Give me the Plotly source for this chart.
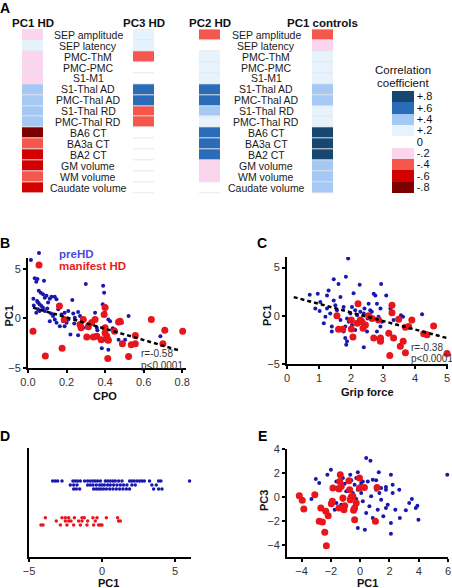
import plotly.graph_objects as go

W, H = 452, 588
FONT = "Liberation Sans, Arial, Helvetica, sans-serif"


def px(x):
    return x / W


def py(y):
    return 1 - y / H


def sfx(n):
    return "" if n == 1 else str(n)


# ---------------- Panel A data ----------------
measures = ["SEP amplitude", "SEP latency", "PMC-ThM", "PMC-PMC", "S1-M1",
            "S1-Thal AD", "PMC-Thal AD", "S1-Thal RD", "PMC-Thal RD",
            "BA6 CT", "BA3a CT", "BA2 CT", "GM volume", "WM volume", "Caudate volume"]
pc1_hd = [-0.2, 0.2, -0.2, -0.2, -0.2, 0.4, 0.4, 0.4, 0.4, -0.8, -0.4, -0.6, -0.6, -0.4, -0.6]
pc3_hd = [0.2, 0.2, -0.4, 0.0, 0.0, 0.6, 0.6, -0.4, -0.4, 0.0, 0.0, 0.0, 0.0, 0.0, 0.0]
pc2_hd = [-0.4, 0.0, 0.2, 0.2, 0.2, 0.6, 0.6, 0.4, 0.2, 0.6, 0.6, 0.6, -0.2, -0.2, 0.0]
pc1_controls = [-0.4, -0.2, 0.2, 0.2, 0.2, 0.4, 0.4, 0.2, 0.2, 0.8, 0.8, 0.8, 0.4, 0.4, 0.4]
heat_titles = ["PC1 HD", "PC3 HD", "PC2 HD", "PC1 controls"]

levels = [-0.8, -0.6, -0.4, -0.2, 0.0, 0.2, 0.4, 0.6, 0.8]
level_labels = ["-.8", "-.6", "-.4", "-.2", "0", "+.2", "+.4", "+.6", "+.8"]
level_colors = ["#7b0000", "#d20000", "#f4574c", "#fbd4ee", "#ffffff",
                "#e6f3fd", "#a5c8f5", "#2a6cb8", "#174670"]

# ---------------- Panel B data (CPO vs PC1) ----------------
b_pre_x = [0.015, 0.049, 0.035, 0.043, 0.083, 0.056, 0.066, 0.078, 0.047, 0.052, 0.06, 0.087,
           0.096, 0.113, 0.122, 0.139, 0.148, 0.104, 0.052, 0.06, 0.043, 0.07, 0.078, 0.087,
           0.13, 0.139, 0.157, 0.174, 0.183, 0.2, 0.19, 0.209, 0.23, 0.235, 0.243, 0.26,
           0.27, 0.22, 0.26, 0.3, 0.33, 0.348, 0.357, 0.39, 0.395, 0.388, 0.4, 0.417,
           0.426, 0.4, 0.383, 0.417, 0.452, 0.47, 0.504, 0.522, 0.687, 0.487, 0.287, 0.165,
           0.148, 0.113, 0.19, 0.209, 0.028, 0.1, 0.12, 0.03, 0.24, 0.31, 0.44, 0.36]
b_pre_y = [5.9, 3.98, 4.05, 3.7, 3.8, 2.8, 2.6, 2.45, 1.77, 1.6, 1.43, 2.1,
           2.3, 2.0, 2.2, 2.2, 1.94, 1.6, 0.92, 0.75, 0.58, 1.26, 1.09, 0.75,
           0.24, -0.1, 0.92, 0.4, -0.27, -0.44, 0.58, 0.75, 1.87, 0.51, 0.07, 0.65,
           0.24, -1.63, -1.7, 3.47, -0.27, 0.58, -0.95, 3.3, 2.6, 1.43, 0.58, -0.1,
           -0.27, -2.14, -3.0, -3.16, -1.12, -2.14, -2.14, 0.24, -1.8, -0.44, -0.95, -0.78,
           -0.44, -0.27, -0.78, -0.1, 2.0, 1.0, 0.5, 1.3, -0.5, -0.6, -1.0, -1.2]
b_man_x = [0.026, 0.09, 0.177, 0.163, 0.188, 0.27, 0.275, 0.305, 0.313, 0.33, 0.339, 0.357,
           0.38, 0.395, 0.4, 0.4, 0.409, 0.414, 0.417, 0.414, 0.449, 0.478, 0.49, 0.522,
           0.536, 0.557, 0.64, 0.71, 0.7, 0.803, 0.287, 0.348, 0.557, 0.4, 0.47]
b_man_y = [-1.29, -3.78, -3.0, 1.26, -0.1, -0.61, -0.95, -1.87, -0.85, -0.44, -1.87, -1.8,
           -2.14, 0.41, -0.95, -1.46, -1.8, -2.14, -2.2, -4.05, -1.29, -0.27, -2.55, -3.84,
           -2.65, -2.55, -0.1, -1.19, -2.55, -1.29, -0.1, -0.1, -1.73, 1.1, -0.37]
b_fit_x = [0.026, 0.78]
b_fit_y = [1.09, -3.2]
b_stats = ["r=-0.58", "p<0.0001"]

# ---------------- Panel C data (Grip force vs PC1) ----------------
c_pre_x = [1.91, 1.84, 1.46, 1.61, 2.27, 2.94, 0.71, 0.96, 1.25, 1.3, 1.04, 0.885, 1.02, 1.15,
           1.4, 1.4, 1.46, 1.51, 1.56, 1.67, 1.77, 1.77, 1.82, 1.85, 1.875, 1.82, 1.98, 2.03,
           2.08, 2.13, 2.19, 2.29, 2.34, 2.4, 2.4, 2.52, 2.6, 2.65, 2.71, 2.76, 2.81, 2.86,
           2.92, 2.97, 3.1, 2.92, 2.81, 3.23, 3.33, 3.56, 3.625, 4.22, 1.67, 1.56, 1.875, 1.93,
           2.03, 2.13, 2.5, 2.24, 2.42, 2.55, 1.25, 1.35, 1.2]
c_pre_y = [5.95, 4.05, 3.8, 3.3, 3.23, 3.3, 2.18, 2.28, 2.1, 2.62, 1.43, 0.75, 0.51, -0.78,
           -1.12, -1.63, 1.6, 1.09, 0.58, 1.94, 0.92, -1.63, -2.31, -3.0, -2.65, -1.12, 0.24, 0.92,
           2.35, 0.58, 0.07, 0.41, -0.44, -3.27, 0.24, -0.27, 0.58, 0.41, 2.28, 2.1, 1.26, -0.1,
           0.75, -0.61, 2.1, -1.12, -1.63, 0.75, -0.44, 0.07, -0.1, 0.17, -0.44, -0.1, -0.27, -0.61,
           -0.95, -1.46, -1.63, 1.26, 0.75, 1.26, 0.75, 0.24, -0.1]
c_man_x = [1.56, 1.61, 1.74, 2.01, 2.01, 2.06, 2.22, 2.29, 2.34, 2.375, 2.55, 2.66, 2.71, 2.86,
           2.92, 2.92, 2.92, 3.18, 3.21, 3.28, 3.28, 3.33, 3.49, 3.54, 3.63, 3.7, 3.7, 3.8,
           3.9, 4.27, 4.375, 4.58, 5.0, 2.19, 2.45]
c_man_y = [0.0, -1.39, -1.39, -1.36, -0.44, -2.21, 1.26, -0.44, -0.61, -1.29, 0.0, -0.27, -2.31, -0.44,
           -2.31, -2.48, -2.65, -1.8, -4.12, 1.09, 0.31, -2.31, -0.37, -3.16, -2.65, -3.84, -1.19, -1.12,
           -0.44, -1.87, -1.97, -1.05, -3.91, -0.78, -0.95]
c_fit_x = [0.21, 5.0]
c_fit_y = [1.94, -2.31]
c_stats = ["r=-0.38", "p<0.0001"]

# ---------------- Panel D data (PC1 by group, three jitter lanes each) ----------------
d_pre_lanes = [
    [-3.38, -3.20, -3.04, -2.74, -1.99, -1.83, -1.67, -1.48, -1.19, -0.98, -0.80, -0.62, -0.46,
     -0.30, -0.11, 0.23, 0.39, 0.57, 0.75, 0.91, 1.14, 1.37, 1.89, 2.05, 2.21, 2.40, 2.58,
     2.74, 2.90, 3.26, 3.88, 4.04, 6.0],
    [-2.17, -1.94, -1.71, -0.98, -0.80, -0.62, -0.39, -0.16, 0.0, 0.16, 0.39, 0.57, 0.80,
     1.03, 1.26, 1.48, 1.71, 2.05, 2.28, 3.42, 3.72],
    [-1.94, -1.76, -1.53, -0.57, -0.39, -0.23, -0.07, 0.11, 0.30, 0.53, 0.75, 0.98, 1.21,
     1.44, 1.67, 1.89, 3.54, 3.88, 4.11],
]
d_man_lanes = [
    [-3.88, -2.74, -2.51, -2.28, -1.89, -1.37, -1.21, -0.62, -0.34, 0.30, 1.07],
    [-3.13, -2.51, -2.28, -2.12, -1.60, -1.37, -0.98, -0.46, 1.14, 1.26],
    [-4.18, -4.04, -2.85, -2.40, -1.94, -1.48, -1.03, -0.57, -0.23, -0.11, 0.0],
]
d_pre_lane_y = [2.09, 1.98, 1.87]
d_man_lane_y = [1.08, 0.99, 0.88]

# ---------------- Panel E data (PC1 vs PC3) ----------------
e_pre_x = [0.41, 0.7, 5.95, -2.0, -3.03, -2.8, -2.24, -1.63, -1.58, -1.18, -1.06, -0.68, -0.61,
           -0.16, -0.27, -0.38, 0.07, 0.18, 0.52, 0.86, 1.09, 1.27, 2.1, 2.22, 1.76, 1.43, 1.31,
           1.76, 2.22, 2.67, 3.12, 2.71, 3.53, 3.35, 3.8, 3.91, 3.98, 2.1, 2.1, 0.32, -0.16,
           0.86, 0.41, 1.2, 1.76, 1.58, 2.4, 0.63, 0.18, -0.27, -0.72, -1.18, -1.63, -1.74,
           -1.29, -1.4, -0.95, -0.5, -0.16, 0.07, -3.33, 1.09, 0.75, 1.43, 1.88, 0.0]
e_pre_y = [3.25, 3.03, 1.86, 2.28, 1.5, 1.17, 1.86, 1.3, 0.8, 1.58, 1.1, 1.86, 1.39,
           2.06, 1.58, 1.03, 1.17, 1.3, 1.3, 1.44, 1.39, 2.06, 1.86, 1.03, 0.83, 0.75, 0.33,
           0.61, 0.33, 0.61, -1.11, -1.75, -0.17, -0.5, -0.92, -0.72, -1.89, -2.17, -3.06, -2.72, -2.58,
           -1.75, -1.33, -1.06, -0.92, -1.61, -1.06, -0.78, -0.36, -0.17, 0.0, -0.22, -0.5, -1.06,
           -0.64, 0.61, 0.47, 0.33, 0.61, 0.33, -0.17, 0.61, 0.06, -0.22, -0.64, 0.89]
e_man_x = [-4.16, -3.96, -3.85, -3.1, -2.69, -2.8, -2.58, -2.35, -2.19, -2.42, -2.31, -1.97,
           -1.9, -1.86, -1.4, -1.36, -1.45, -1.29, -1.18, -1.06, -1.11, -0.72, -0.68, -0.61,
           -0.5, -0.38, -0.45, -0.38, -0.27, -0.05, 0.29, -0.05, -1.45, 1.15, 1.04, -0.77]
e_man_y = [0.11, -0.28, -1.0, 0.19, -0.92, -2.03, -2.08, -1.19, -1.56, -2.94, -4.06, -0.56,
           -0.36, 0.75, 1.3, 1.86, 0.67, 0.89, -0.08, -0.72, -1.06, 0.61, -0.22, 0.0,
           0.06, -0.92, -1.11, -1.89, -0.5, 0.75, 0.8, 1.58, -0.92, 0.8, -2.03, 1.36]

BLUE = "#1818b0"
RED = "#e8161b"
BLUE_TXT = "#4a4ae0"
RED_TXT = "#e81c1c"

fig = go.Figure()
fig.update_layout(template="none")


def note(text, x, y, size=11, color="#111", xref="paper", yref="paper",
         xanchor="center", angle=0):
    fig.add_annotation(x=x, y=y, xref=xref, yref=yref, text=text, showarrow=False,
                       xanchor=xanchor, yanchor="middle", textangle=angle,
                       font=dict(size=size, color=color))


# ---------------- Heatmaps ----------------
heat_values = [pc1_hd, pc3_hd, pc2_hd, pc1_controls]
heat_x = [(22, 43), (133, 154), (199, 220), (312, 333)]
row_top, row_bot = 29.3, 193.3
for i, (vals, (x0, x1)) in enumerate(zip(heat_values, heat_x)):
    s = sfx(i + 1)
    fig.add_trace(go.Heatmap(
        z=[[v] for v in vals], y=measures, x=[0], coloraxis="coloraxis",
        ygap=1, xaxis=f"x{s}", yaxis=f"y{s}", hoverinfo="skip"))
    fig.layout[f"xaxis{s}"] = dict(domain=[px(x0), px(x1)], visible=False, automargin=False,
                                   range=[-0.5, 0.5], anchor=f"y{s}")
    fig.layout[f"yaxis{s}"] = dict(domain=[py(row_bot), py(row_top)], visible=False,
                                   automargin=False, type="category",
                                   range=[len(measures) - 0.5, -0.5], anchor=f"x{s}")
    fig.add_shape(type="rect", xref=f"x{s} domain", yref=f"y{s} domain",
                  x0=0, x1=1, y0=0, y1=1, fillcolor="#e6e6e6", line_width=0, layer="below")
    note(f"<b>{heat_titles[i]}</b>", px((x0 + x1) / 2), py(23), size=11.5)

for lab_x, yref in [(88, "y"), (266, "y3")]:
    for m in measures:
        note(m, px(lab_x), m, size=10.5, color="#1a1a1a", yref=yref)

colorscale = []
nlev = len(level_colors)
for i, c in enumerate(level_colors):
    colorscale.append([i / nlev, c])
    colorscale.append([(i + 1) / nlev, c])

fig.update_layout(coloraxis=dict(
    colorscale=colorscale, cmin=-0.9, cmax=0.9,
    colorbar=dict(x=px(392), xanchor="left", xpad=0, y=py(90.7), yanchor="top", ypad=0,
                  len=102, lenmode="pixels", thickness=22, thicknessmode="pixels",
                  outlinewidth=0, ticks="", tickvals=levels, ticktext=level_labels,
                  tickfont=dict(size=11, color="#111"))))
note("Correlation", px(403), py(70), size=11.5)
note("coefficient", px(403), py(83), size=11.5)

# ---------------- Scatter panels ----------------
axis_style = dict(showline=True, linecolor="black", linewidth=2, ticks="outside",
                  ticklen=3, tickwidth=1.5, tickcolor="black", showgrid=False,
                  zeroline=False, automargin=False, tickfont=dict(size=11, color="#333"))


def set_axes(n, xdom, ydom, xr, yr, xextra=None, yextra=None):
    xa = dict(axis_style, domain=[px(xdom[0]), px(xdom[1])], range=xr, anchor=f"y{n}")
    ya = dict(axis_style, domain=[py(ydom[1]), py(ydom[0])], range=yr, anchor=f"x{n}")
    if xextra:
        xa.update(xextra)
    if yextra:
        ya.update(yextra)
    fig.layout[f"xaxis{n}"] = xa
    fig.layout[f"yaxis{n}"] = ya


# B
set_axes(5, (28, 186), (258, 368), [0, 0.82], [-5, 6.1],
         dict(tickvals=[0, 0.2, 0.4, 0.6, 0.8], tickformat=".1f"), dict(tickvals=[-5, 0, 5]))
fig.add_trace(go.Scatter(x=b_pre_x, y=b_pre_y, mode="markers", xaxis="x5", yaxis="y5",
                         marker=dict(color=BLUE, size=4),
                         name=f'<span style="color:{BLUE_TXT}"><b>preHD</b></span>',
                         legend="legend"))
fig.add_trace(go.Scatter(x=b_man_x, y=b_man_y, mode="markers", xaxis="x5", yaxis="y5",
                         marker=dict(color=RED, size=7),
                         name=f'<span style="color:{RED_TXT}"><b>manifest HD</b></span>',
                         legend="legend2"))
fig.add_trace(go.Scatter(x=b_fit_x, y=b_fit_y, mode="lines", xaxis="x5", yaxis="y5",
                         line=dict(color="black", width=2.5, dash="4px,3px"), showlegend=False))

# C
set_axes(6, (287, 448), (257, 364), [0, 5.03], [-5, 6.1],
         dict(tickvals=[0, 1, 2, 3, 4, 5]), dict(tickvals=[-5, 0, 5]))
fig.add_trace(go.Scatter(x=c_pre_x, y=c_pre_y, mode="markers", xaxis="x6", yaxis="y6",
                         marker=dict(color=BLUE, size=4), showlegend=False))
fig.add_trace(go.Scatter(x=c_man_x, y=c_man_y, mode="markers", xaxis="x6", yaxis="y6",
                         marker=dict(color=RED, size=7), showlegend=False, cliponaxis=False))
fig.add_trace(go.Scatter(x=c_fit_x, y=c_fit_y, mode="lines", xaxis="x6", yaxis="y6",
                         line=dict(color="black", width=2.5, dash="4px,3px"), showlegend=False))

# D
set_axes(7, (29, 191), (448, 557), [-5, 6.1], [0, 3],
         dict(tickvals=[-5, 0, 5]), dict(ticks="", showticklabels=False))
dpx, dpy, dmx, dmy = [], [], [], []
for lane, ly in zip(d_pre_lanes, d_pre_lane_y):
    dpx += lane
    dpy += [ly] * len(lane)
for lane, ly in zip(d_man_lanes, d_man_lane_y):
    dmx += lane
    dmy += [ly] * len(lane)
fig.add_trace(go.Scatter(x=dpx, y=dpy, mode="markers", xaxis="x7", yaxis="y7",
                         marker=dict(color=BLUE, size=3.5), showlegend=False, cliponaxis=False))
fig.add_trace(go.Scatter(x=dmx, y=dmy, mode="markers", xaxis="x7", yaxis="y7",
                         marker=dict(color=RED, size=3.5), showlegend=False))

# E
set_axes(8, (287, 448), (449, 557), [-5, 6], [-5, 4],
         dict(tickvals=[-4, -2, 0, 2, 4, 6]), dict(tickvals=[-4, -2, 0, 2, 4]))
fig.add_trace(go.Scatter(x=e_pre_x, y=e_pre_y, mode="markers", xaxis="x8", yaxis="y8",
                         marker=dict(color=BLUE, size=4), showlegend=False, cliponaxis=False))
fig.add_trace(go.Scatter(x=e_man_x, y=e_man_y, mode="markers", xaxis="x8", yaxis="y8",
                         marker=dict(color=RED, size=7), showlegend=False))

# stats annotations
for txt, yy in zip(b_stats, [-3.55, -4.7]):
    note(txt, 0.577, yy, size=10, color="#333", xref="x5", yref="y5", xanchor="left")
for txt, yy in zip(c_stats, [-3.27, -4.4]):
    note(txt, 3.82, yy, size=10, color="#333", xref="x6", yref="y6", xanchor="left")

# axis titles
titles = [("CPO", 105, 396, 0), ("Grip force", 367, 392, 0), ("PC1", 8.5, 316, -90),
          ("PC1", 267, 316, -90), ("PC1", 108, 583, 0), ("PC1", 367, 583, 0),
          ("PC3", 264, 501, -90)]
for t, x, y, ang in titles:
    note(f"<b>{t}</b>", px(x), py(y), size=11, angle=ang)

# panel letters
for t, x, y in [("A", 5, 8), ("B", 5, 243), ("C", 262, 243), ("D", 5, 436), ("E", 262, 436)]:
    note(f"<b>{t}</b>", px(x), py(y), size=14, color="#000")

fig.update_layout(
    width=W, height=H, margin=dict(l=0, r=0, t=0, b=0, autoexpand=False),
    paper_bgcolor="white", plot_bgcolor="white",
    font=dict(family=FONT, size=11, color="#111"),
    legend=dict(x=px(19), xanchor="left", y=py(253), yanchor="middle",
                bgcolor="rgba(0,0,0,0)", borderwidth=0, font=dict(size=11.5)),
    legend2=dict(x=px(19), xanchor="left", y=py(265), yanchor="middle",
                 bgcolor="rgba(0,0,0,0)", borderwidth=0, font=dict(size=11.5)),
)

fig.write_html("out.html", config={"displayModeBar": False},
               post_script="document.body.style.margin='0px';")
